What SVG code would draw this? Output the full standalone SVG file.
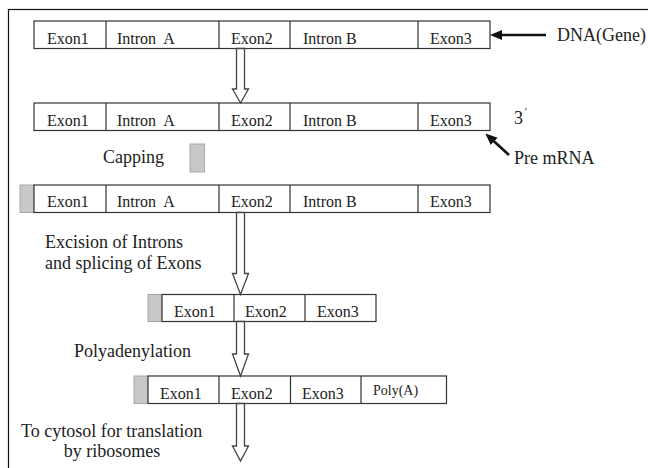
<svg xmlns="http://www.w3.org/2000/svg" width="648" height="468" viewBox="0 0 648 468">
<defs>
<style>
.box{fill:#fff;stroke:#333;stroke-width:1.2}
.div{stroke:#333;stroke-width:1.2}
.cap{fill:#c8c8c8;stroke:#a8a8a8;stroke-width:1}
.t{font-family:"Liberation Serif","Times New Roman",serif;font-size:16px;fill:#222}
.l{font-family:"Liberation Serif","Times New Roman",serif;font-size:18px;fill:#222}
.s{font-family:"Liberation Serif","Times New Roman",serif;font-size:14px;fill:#222}
.arr{fill:#fff;stroke:#444;stroke-width:1.3;stroke-linejoin:miter}
.ptr{stroke:#111;stroke-width:2.6;fill:none}
</style>
<marker id="head" markerUnits="userSpaceOnUse" markerWidth="14" markerHeight="12" refX="3" refY="5" orient="auto">
<path d="M0,0 L12,5 L0,10 z" fill="#111"/>
</marker>
</defs>
<rect x="8.5" y="9.5" width="680" height="480" fill="none" stroke="#111" stroke-width="1.2"/>

<g id="dna-gene">
<rect class="box" x="34" y="21" width="456" height="27.5"/>
<line class="div" x1="106" y1="21" x2="106" y2="48.5"/>
<line class="div" x1="219" y1="21" x2="219" y2="48.5"/>
<line class="div" x1="290" y1="21" x2="290" y2="48.5"/>
<line class="div" x1="418" y1="21" x2="418" y2="48.5"/>
<text class="t" x="47" y="43.5">Exon1</text>
<text class="t" x="117" y="43.5" xml:space="preserve">Intron  A</text>
<text class="t" x="231" y="43.5">Exon2</text>
<text class="t" x="303" y="43.5">Intron B</text>
<text class="t" x="430" y="43.5">Exon3</text>
</g>

<g id="pre-mrna">
<rect class="box" x="34" y="103" width="456" height="27.5"/>
<line class="div" x1="106" y1="103" x2="106" y2="130.5"/>
<line class="div" x1="219" y1="103" x2="219" y2="130.5"/>
<line class="div" x1="290" y1="103" x2="290" y2="130.5"/>
<line class="div" x1="418" y1="103" x2="418" y2="130.5"/>
<text class="t" x="47" y="125.5">Exon1</text>
<text class="t" x="117" y="125.5" xml:space="preserve">Intron  A</text>
<text class="t" x="231" y="125.5">Exon2</text>
<text class="t" x="303" y="125.5">Intron B</text>
<text class="t" x="430" y="125.5">Exon3</text>
</g>

<g id="capped">
<rect class="cap" x="20" y="185" width="14" height="27.5"/>
<rect class="box" x="34" y="185" width="456" height="27.5"/>
<line class="div" x1="106" y1="185" x2="106" y2="212.5"/>
<line class="div" x1="219" y1="185" x2="219" y2="212.5"/>
<line class="div" x1="290" y1="185" x2="290" y2="212.5"/>
<line class="div" x1="418" y1="185" x2="418" y2="212.5"/>
<text class="t" x="47" y="207">Exon1</text>
<text class="t" x="117" y="207" xml:space="preserve">Intron  A</text>
<text class="t" x="231" y="207">Exon2</text>
<text class="t" x="303" y="207">Intron B</text>
<text class="t" x="430" y="207">Exon3</text>
</g>

<g id="spliced">
<rect class="cap" x="148" y="294.5" width="14" height="27"/>
<rect class="box" x="162" y="294.5" width="214" height="27"/>
<line class="div" x1="234" y1="294.5" x2="234" y2="321.5"/>
<line class="div" x1="305" y1="294.5" x2="305" y2="321.5"/>
<text class="t" x="174" y="316.5">Exon1</text>
<text class="t" x="245" y="316.5">Exon2</text>
<text class="t" x="317" y="316.5">Exon3</text>
</g>

<g id="polyadenylated">
<rect class="cap" x="134" y="376" width="14" height="27.5"/>
<rect class="box" x="148" y="376" width="298.5" height="27.5"/>
<line class="div" x1="219" y1="376" x2="219" y2="403.5"/>
<line class="div" x1="290.5" y1="376" x2="290.5" y2="403.5"/>
<line class="div" x1="361" y1="376" x2="361" y2="403.5"/>
<text class="t" x="160" y="398.5">Exon1</text>
<text class="t" x="231" y="398.5">Exon2</text>
<text class="t" x="302" y="398.5">Exon3</text>
<text class="s" x="373" y="395">Poly(A)</text>
</g>

<g id="cap-block">
<rect class="cap" x="190" y="144" width="14.5" height="28"/>
</g>

<g id="label-dna"><text class="l" x="557" y="41">DNA(Gene)</text></g>
<g id="label-3prime"><text class="l" x="514" y="124">3<tspan font-size="10" dx="1" dy="-9">’</tspan></text></g>
<g id="label-premrna"><text class="l" x="514" y="164">Pre mRNA</text></g>
<g id="label-capping"><text class="l" x="103" y="163">Capping</text></g>
<g id="label-excision">
<text class="l" x="45" y="248">Excision of Introns</text>
<text class="l" x="45" y="269">and splicing of Exons</text>
</g>
<g id="label-poly"><text class="l" x="74" y="357">Polyadenylation</text></g>
<g id="label-cytosol">
<text class="l" x="21" y="437">To cytosol for translation</text>
<text class="l" x="112" y="457" text-anchor="middle">by ribosomes</text>
</g>

<g id="connectors">
<polygon class="arr" points="236.5,48.5 236.5,89 232.5,89 240.5,103 248.5,89 244.5,89 244.5,48.5"/>
<polygon class="arr" points="236.5,212.5 236.5,273.5 232.5,273.5 240.5,294.5 248.5,273.5 244.5,273.5 244.5,212.5"/>
<polygon class="arr" points="236.5,321.5 236.5,354 232.5,354 240.5,376 248.5,354 244.5,354 244.5,321.5"/>
<polygon class="arr" points="236.5,403.5 236.5,446 232.5,446 240.5,461 248.5,446 244.5,446 244.5,403.5"/>
<line class="ptr" x1="546" y1="35" x2="499" y2="35" marker-end="url(#head)"/>
<line class="ptr" x1="509" y1="155" x2="492" y2="139.5" marker-end="url(#head)"/>
</g>
</svg>
